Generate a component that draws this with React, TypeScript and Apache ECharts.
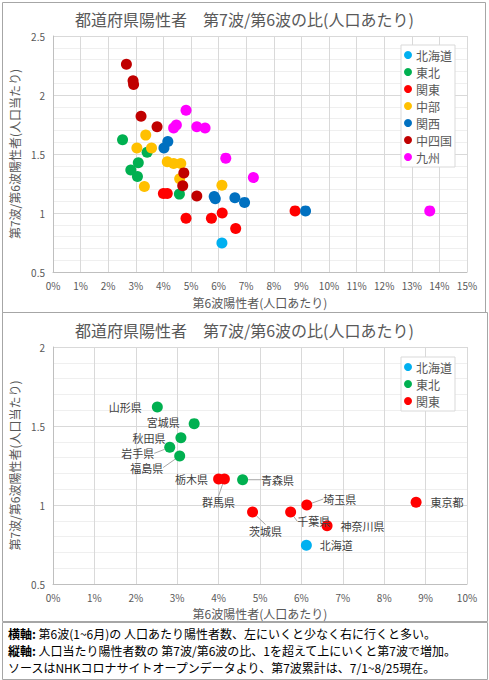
import React, { useEffect, useRef } from "react";
import * as echarts from "echarts";

const FONT = "'Noto Sans CJK JP', 'Noto Sans', sans-serif";

const regionNames = ["北海道", "東北", "関東", "中部", "関西", "中四国", "九州"];
const regionColors = ["#00B0F0", "#00B050", "#FF0000", "#FFC000", "#0070C0", "#C00000", "#FF00FF"];

const hokkaidoNames = ["北海道"];
const hokkaidoX = [6.12];
const hokkaidoY = [0.745];

const tohokuNames = ["山形県", "宮城県", "秋田県", "岩手県", "福島県", "青森県"];
const tohokuX = [2.52, 3.41, 3.09, 2.82, 3.06, 4.58];
const tohokuY = [1.62, 1.515, 1.425, 1.365, 1.31, 1.16];

const kantoNames = ["栃木県", "群馬県", "埼玉県", "東京都", "茨城県", "千葉県", "神奈川県"];
const kantoX = [4.0, 4.14, 6.13, 8.77, 4.82, 5.74, 6.62];
const kantoY = [1.165, 1.165, 1.0, 1.018, 0.955, 0.955, 0.868];

const chubuX = [3.36, 3.04, 3.57, 4.14, 4.37, 4.63, 3.31, 4.59, 6.12];
const chubuY = [1.66, 1.55, 1.55, 1.435, 1.42, 1.42, 1.225, 1.29, 1.235];

const kansaiX = [4.02, 4.16, 5.84, 5.88, 6.59, 6.94, 9.15];
const kansaiY = [1.55, 1.605, 1.14, 1.12, 1.13, 1.09, 1.018];

const chushikokuX = [2.66, 2.9, 2.92, 3.19, 3.77, 4.74, 4.7, 5.21];
const chushikokuY = [2.26, 2.12, 2.09, 1.82, 1.73, 1.34, 1.23, 1.145];

const kyushuX = [4.82, 4.37, 4.47, 5.21, 5.51, 6.26, 7.26, 13.65];
const kyushuY = [1.87, 1.72, 1.745, 1.73, 1.72, 1.465, 1.3, 1.018];

const chartTitle = "都道府県陽性者　第7波/第6波の比(人口あたり)";
const xName = "第6波陽性者(人口あたり)";
const yName = "第7波/第6波陽性者(人口当たり)";
const footerLines = [
  ["横軸:", " 第6波(1~6月)の 人口あたり陽性者数、左にいくと少なく右に行くと多い。"],
  ["縦軸:", " 人口当たり陽性者数の 第7波/第6波の比、1を超えて上にいくと第7波で増加。"],
  ["", "ソースはNHKコロナサイトオープンデータより、第7波累計は、7/1~8/25現在。"],
];

// label placement (layout only)
const placement: Record<string, { pos: string; dist: number; dx?: number; dy?: number; line?: boolean }> = {
  山形県: { pos: "left", dist: 10 },
  宮城県: { pos: "left", dist: 9, dy: -1.5 },
  秋田県: { pos: "left", dist: 10, dy: 0 },
  岩手県: { pos: "left", dist: 10, dy: 6, line: true },
  福島県: { pos: "left", dist: 5, dx: -6, dy: 11.5, line: true },
  栃木県: { pos: "left", dist: 5 },
  群馬県: { pos: "bottom", dist: 5, dx: -6, dy: 7, line: true },
  青森県: { pos: "right", dist: 5, dx: 8, line: true },
  埼玉県: { pos: "right", dist: 5, dx: 6, dy: -6, line: true },
  東京都: { pos: "right", dist: 9 },
  茨城県: { pos: "bottom", dist: 5, dx: 13, dy: 2, line: true },
  千葉県: { pos: "right", dist: 5, dx: -4, dy: 9, line: true },
  神奈川県: { pos: "right", dist: 8 },
  北海道: { pos: "right", dist: 8 },
};

function pts(xs: number[], ys: number[]) {
  return xs.map((x, i) => [x, ys[i]]);
}

function topSeries(name: string, xs: number[], ys: number[]) {
  const idx = regionNames.indexOf(name);
  return {
    type: "scatter",
    name,
    xAxisIndex: 0,
    yAxisIndex: 0,
    symbolSize: 11,
    itemStyle: { color: regionColors[idx], opacity: 1 },
    data: pts(xs, ys),
  };
}

function bottomSeries(name: string, names: string[], xs: number[], ys: number[]) {
  const idx = regionNames.indexOf(name);
  return {
    type: "scatter",
    name,
    xAxisIndex: 1,
    yAxisIndex: 1,
    symbolSize: 11,
    itemStyle: { color: regionColors[idx], opacity: 1 },
    label: { show: true, formatter: "{b}", fontSize: 11, lineHeight: 12, color: "#404040", fontFamily: FONT },
    labelLine: { show: false, lineStyle: { color: "#a6a6a6", width: 1 } },
    labelLayout: (params: any) => {
      const p = placement[names[params.dataIndex]];
      return { dx: (p && p.dx) || 0, dy: (p && p.dy) || 0 };
    },
    data: names.map((n, i) => ({
      name: n,
      value: [xs[i], ys[i]],
      label: { position: placement[n].pos, distance: placement[n].dist },
      labelLine: { show: !!placement[n].line, lineStyle: { color: "#a6a6a6", width: 1 } },
    })),
  };
}

function xAxisCfg(grid: number, max: number, gap: number) {
  return {
    type: "value",
    gridIndex: grid,
    min: 0,
    max,
    interval: 1,
    name: xName,
    nameLocation: "middle",
    nameGap: gap,
    nameTextStyle: { fontSize: 12, color: "#595959", fontFamily: FONT, lineHeight: 12 },
    axisLine: { show: true, lineStyle: { color: "#bfbfbf" } },
    axisTick: { show: false },
    axisLabel: { formatter: "{value}%", fontSize: 10, color: "#595959", margin: 8, fontFamily: FONT },
    splitLine: { show: true, lineStyle: { color: "#d9d9d9" } },
  };
}

function yAxisCfg(grid: number, max: number) {
  return {
    type: "value",
    gridIndex: grid,
    min: 0.5,
    max,
    interval: 0.5,
    name: yName,
    nameLocation: "middle",
    nameGap: 33,
    nameTextStyle: { fontSize: 12, color: "#595959", fontFamily: FONT, lineHeight: 12 },
    axisLine: { show: true, lineStyle: { color: "#bfbfbf" } },
    axisTick: { show: false },
    axisLabel: { fontSize: 10, color: "#595959", margin: 8, fontFamily: FONT },
    splitLine: { show: true, lineStyle: { color: "#d9d9d9" } },
    minorTick: { show: false, splitNumber: 5 },
    minorSplitLine: { show: true, lineStyle: { color: "#efefef" } },
  };
}

function legendCfg(data: string[], top: number) {
  return {
    data,
    orient: "vertical",
    left: 401,
    top,
    icon: "circle",
    itemWidth: 8,
    itemHeight: 8,
    itemGap: 5,
    padding: [4, 3, 4, 3],
    borderColor: "#d9d9d9",
    borderWidth: 1,
    backgroundColor: "#ffffff",
    selectedMode: false,
    textStyle: { fontSize: 12, color: "#595959", fontFamily: FONT, lineHeight: 12, padding: [0, 0, 0, -1] },
  };
}

export default function App() {
  const ref = useRef<HTMLDivElement>(null);
  useEffect(() => {
    if (!ref.current) return;
    const chart = echarts.init(ref.current, undefined, { renderer: "svg" });
    chart.setOption({
      animation: false,
      backgroundColor: "#ffffff",
      textStyle: { fontFamily: FONT },
      title: [
        {
          text: chartTitle,
          left: "center",
          top: 11,
          padding: 0,
          textStyle: { fontSize: 16, fontWeight: "normal", color: "#595959", fontFamily: FONT },
        },
        {
          text: chartTitle,
          left: "center",
          top: 322,
          padding: 0,
          textStyle: { fontSize: 16, fontWeight: "normal", color: "#595959", fontFamily: FONT },
        },
      ],
      grid: [
        { left: 43, top: 36, width: 424, height: 236 },
        { left: 43, top: 347, width: 424, height: 237 },
      ],
      xAxis: [xAxisCfg(0, 15, 24), xAxisCfg(1, 10, 23)],
      yAxis: [yAxisCfg(0, 2.5), yAxisCfg(1, 2)],
      legend: [legendCfg(regionNames, 45), legendCfg(regionNames.slice(0, 3), 357)],
      series: [
        topSeries("北海道", hokkaidoX, hokkaidoY),
        topSeries("東北", tohokuX, tohokuY),
        topSeries("関東", kantoX, kantoY),
        topSeries("中部", chubuX, chubuY),
        topSeries("関西", kansaiX, kansaiY),
        topSeries("中四国", chushikokuX, chushikokuY),
        topSeries("九州", kyushuX, kyushuY),
        bottomSeries("北海道", hokkaidoNames, hokkaidoX, hokkaidoY),
        bottomSeries("東北", tohokuNames, tohokuX, tohokuY),
        bottomSeries("関東", kantoNames, kantoX, kantoY),
      ],
      graphic: [
        {
          type: "rect",
          silent: true,
          z: -1,
          shape: { x: 2.5, y: 2.5, width: 483, height: 310 },
          style: { fill: "none", stroke: "#a6a6a6", lineWidth: 1 },
        },
        {
          type: "rect",
          silent: true,
          z: -1,
          shape: { x: 2.5, y: 312.5, width: 485, height: 309 },
          style: { fill: "none", stroke: "#a6a6a6", lineWidth: 1 },
        },
        {
          type: "rect",
          silent: true,
          z: -1,
          shape: { x: 2.5, y: 622.5, width: 485, height: 57 },
          style: { fill: "none", stroke: "#a6a6a6", lineWidth: 1 },
        },
        ...footerLines.map((l, i) => ({
          type: "text",
          silent: true,
          left: 8,
          top: 627 + i * 17,
          style: {
            text: (l[0] ? "{b|" + l[0] + "}" : "") + l[1],
            fill: "#000000",
            fontSize: 12,
            fontFamily: FONT,
            rich: { b: { fontWeight: "bold", fontSize: 12, fontFamily: FONT, fill: "#000000" } },
          },
        })),
      ],
    });
    return () => chart.dispose();
  }, []);
  return (
    <div
      ref={ref}
      style={{ position: "absolute", left: 0, top: 0, width: 489, height: 680 }}
    />
  );
}
